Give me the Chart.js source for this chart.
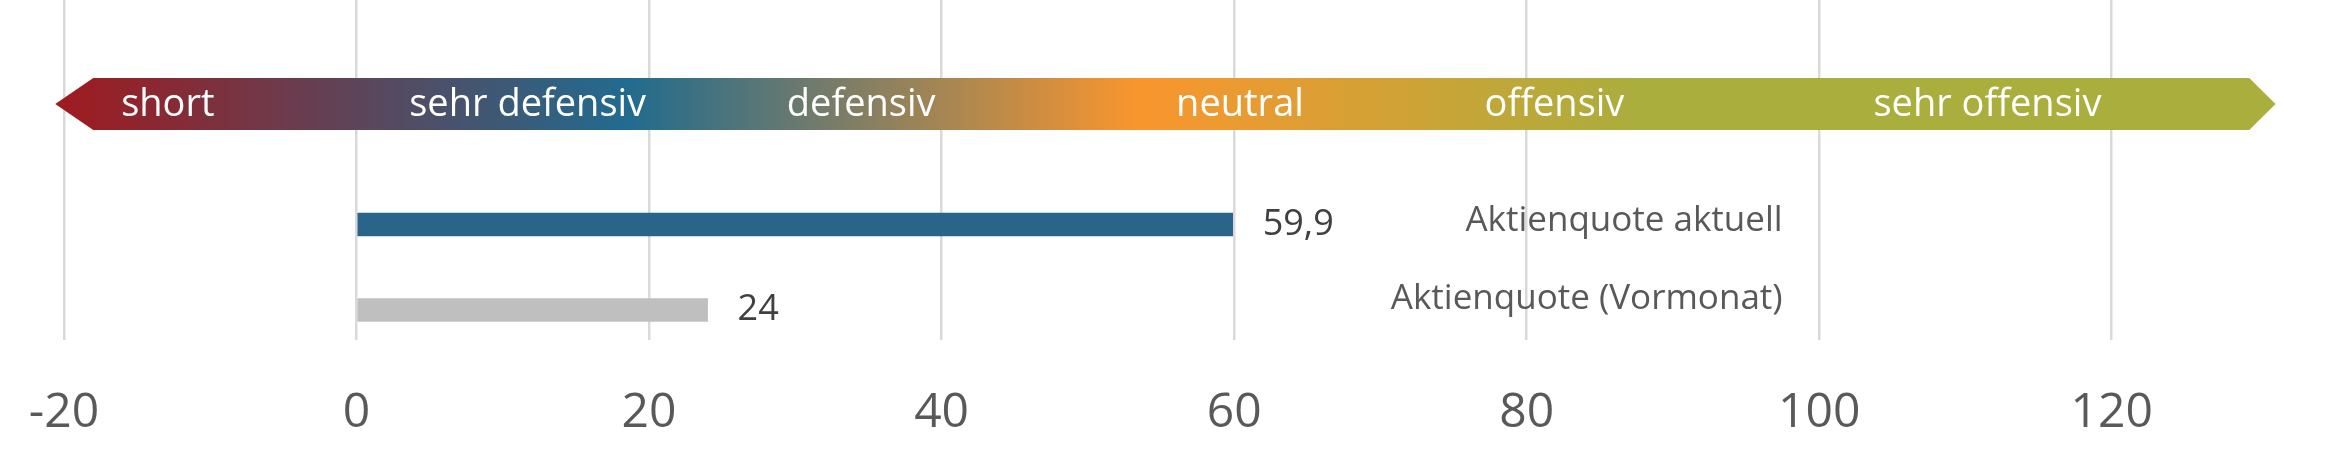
<!DOCTYPE html>
<html>
<head>
<meta charset="utf-8">
<script src="https://cdn.jsdelivr.net/npm/chart.js@4/dist/chart.umd.min.js"></script>
<style>
  html, body { margin: 0; padding: 0; background: #fff; }
  #wrap { width: 2328px; height: 450px; }
</style>
</head>
<body>
<div id="wrap"><canvas id="quote"></canvas></div>
<script>
// data
var categories = ['Aktienquote aktuell', 'Aktienquote (Vormonat)'];
var values = [59.9, 24];
var valueLabels = ['59,9', '24'];
var barColors = ['#2A6589', '#BFBFBF'];
var xTicks = [-20, 0, 20, 40, 60, 80, 100, 120];

// the coloured arrow band above the bars
var zoneLabels = ['short', 'sehr defensiv', 'defensiv', 'neutral', 'offensiv', 'sehr offensiv'];
var zoneCenters = [-12.9, 11.7, 34.5, 60.4, 81.9, 111.5];
var gradValues = [-20, 18.5, 53.5, 88];
var gradColors = ['#9E1B20', '#216B8F', '#F9962E', '#A9AE3D'];

var bandPlugin = {
    id: 'band',
    beforeDatasetsDraw: function (chart) {
        var ctx = chart.ctx, xs = chart.scales.x, ys = chart.scales.y;
        var cy = ys.getPixelForValue(-1.41), h = 52;
        var tipL = xs.getPixelForValue(-20.6), startL = xs.getPixelForValue(-18);
        var endR = xs.getPixelForValue(129.4), tipR = xs.getPixelForValue(131.2);
        var g = ctx.createLinearGradient(xs.getPixelForValue(gradValues[0]), 0,
            xs.getPixelForValue(gradValues[gradValues.length - 1]), 0);
        var span = gradValues[gradValues.length - 1] - gradValues[0];
        gradValues.forEach(function (v, i) {
            g.addColorStop((v - gradValues[0]) / span, gradColors[i]);
        });
        ctx.save();
        ctx.fillStyle = g;
        ctx.beginPath();
        ctx.moveTo(tipL, cy);
        ctx.lineTo(startL, cy - h / 2);
        ctx.lineTo(endR, cy - h / 2);
        ctx.lineTo(tipR, cy);
        ctx.lineTo(endR, cy + h / 2);
        ctx.lineTo(startL, cy + h / 2);
        ctx.closePath();
        ctx.fill();
        ctx.fillStyle = '#ffffff';
        ctx.font = '38px "Open Sans"';
        ctx.textAlign = 'center';
        ctx.textBaseline = 'middle';
        zoneLabels.forEach(function (t, i) {
            ctx.fillText(t, xs.getPixelForValue(zoneCenters[i]), cy + 1);
        });
        ctx.restore();
    }
};

var labelPlugin = {
    id: 'barlabels',
    afterDatasetsDraw: function (chart) {
        var ctx = chart.ctx, xs = chart.scales.x;
        var meta = chart.getDatasetMeta(0);
        ctx.save();
        ctx.textBaseline = 'middle';
        meta.data.forEach(function (el, i) {
            ctx.fillStyle = '#404040';
            ctx.font = '36px "Open Sans"';
            ctx.textAlign = 'left';
            ctx.fillText(valueLabels[i], el.x + 30, el.y);
            ctx.fillStyle = '#595959';
            ctx.font = '35px "Open Sans"';
            ctx.textAlign = 'right';
            ctx.fillText(categories[i], xs.getPixelForValue(97.5), el.y - (i === 0 ? 3 : 11));
        });
        ctx.restore();
    }
};

var ctx = document.getElementById('quote').getContext('2d');
var chart = new Chart(ctx, {
    type: 'bar',
    data: {
        datasets: [{
            data: categories.map(function (c, i) { return { x: values[i], y: i }; }),
            backgroundColor: barColors,
            borderWidth: 0,
            barThickness: 23
        }]
    },
    options: {
        indexAxis: 'y',
        responsive: true,
        maintainAspectRatio: false,
        animation: false,
        layout: { padding: { left: 64, right: 70, top: 0, bottom: 0 } },
        plugins: { legend: { display: false }, tooltip: { enabled: false } },
        scales: {
            x: {
                type: 'linear',
                min: -20,
                max: 130,
                afterBuildTicks: function (s) {
                    s.ticks = xTicks.map(function (v) { return { value: v }; });
                },
                afterFit: function (s) {
                    s.height = 110;
                    s.paddingLeft = 0;
                    s.paddingRight = 0;
                },
                grid: { color: '#D9D9D9', lineWidth: 2.5, drawTicks: false, tickLength: 0 },
                border: { display: false },
                ticks: {
                    padding: 45,
                    color: '#595959',
                    font: { family: 'Open Sans', size: 48 },
                    callback: function (v) { return String(v); }
                }
            },
            y: {
                type: 'linear',
                reverse: true,
                offset: false,
                bounds: 'data',
                grace: 0,
                min: -2.626,
                max: 1.351,
                display: false
            }
        }
    },
    plugins: [bandPlugin, labelPlugin]
});
</script>
</body>
</html>
